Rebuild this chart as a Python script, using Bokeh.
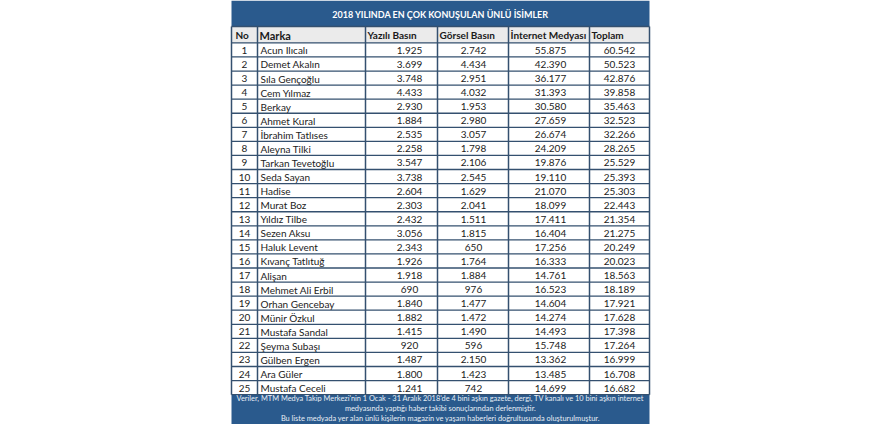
from bokeh.plotting import figure
from bokeh.models import ColumnDataSource, Range1d
from bokeh.core.properties import value
from bokeh.embed import file_html
from bokeh.resources import INLINE

# ---------------- data ----------------
title = "2018 YILINDA EN ÇOK KONUŞULAN ÜNLÜ İSİMLER"
headers = ["No", "Marka", "Yazılı Basın", "Görsel Basın", "İnternet Medyası", "Toplam"]
ranks = list(range(1, 26))
names = ["Acun Ilıcalı", "Demet Akalın", "Sıla Gençoğlu", "Cem Yılmaz", "Berkay",
         "Ahmet Kural", "İbrahim Tatlıses", "Aleyna Tilki", "Tarkan Tevetoğlu", "Seda Sayan",
         "Hadise", "Murat Boz", "Yıldız Tilbe", "Sezen Aksu", "Haluk Levent",
         "Kıvanç Tatlıtuğ", "Alişan", "Mehmet Ali Erbil", "Orhan Gencebay", "Münir Özkul",
         "Mustafa Sandal", "Şeyma Subaşı", "Gülben Ergen", "Ara Güler", "Mustafa Ceceli"]
yazili = [1925, 3699, 3748, 4433, 2930, 1884, 2535, 2258, 3547, 3738,
          2604, 2303, 2432, 3056, 2343, 1926, 1918, 690, 1840, 1882,
          1415, 920, 1487, 1800, 1241]
gorsel = [2742, 4434, 2951, 4032, 1953, 2980, 3057, 1798, 2106, 2545,
          1629, 2041, 1511, 1815, 650, 1764, 1884, 976, 1477, 1472,
          1490, 596, 2150, 1423, 742]
internet = [55875, 42390, 36177, 31393, 30580, 27659, 26674, 24209, 19876, 19110,
            21070, 18099, 17411, 16404, 17256, 16333, 14761, 16523, 14604, 14274,
            14493, 15748, 13362, 13485, 14699]
toplam = [60542, 50523, 42876, 39858, 35463, 32523, 32266, 28265, 25529, 25393,
          25303, 22443, 21354, 21275, 20249, 20023, 18563, 18189, 17921, 17628,
          17398, 17264, 16999, 16708, 16682]
footer = ["Veriler, MTM Medya Takip Merkezi'nin 1 Ocak - 31 Aralık 2018'de 4 bini aşkın gazete, dergi, TV kanalı ve 10 bini aşkın internet",
          "medyasında yaptığı haber takibi sonuçlarından derlenmiştir.",
          "Bu liste medyada yer alan ünlü kişilerin magazin ve yaşam haberleri doğrultusunda oluşturulmuştur."]

# ---------------- layout ----------------
FONT = value("Lato")
DARK = "#2a5a8d"
LINE = "#34506f"
edges = [231, 257, 365, 437, 508, 589, 649]
TITLE_TOP, TITLE_BOT = 0, 27
HEAD_BOT = 44
ROW_H = 14.6
n = len(names)
TABLE_BOT = HEAD_BOT + ROW_H * n
BOTTOM = 440

def fmt(v):
    return f"{v:,}".replace(",", ".")

p = figure(width=864, height=424, output_backend="svg", toolbar_location=None,
           x_range=Range1d(0, 864), y_range=Range1d(BOTTOM, 0),
           min_border=0, outline_line_color=None)
p.axis.visible = False
p.grid.visible = False
p.background_fill_color = "white"
p.border_fill_color = "white"

# bands
p.quad(left=[edges[0]], right=[edges[-1]], top=[TITLE_TOP], bottom=[TITLE_BOT],
       fill_color=DARK, line_color=None)
p.quad(left=[edges[0]], right=[edges[-1]], top=[TITLE_BOT], bottom=[HEAD_BOT],
       fill_color="#ebebeb", line_color=None)
p.quad(left=[edges[0]], right=[edges[-1]], top=[TABLE_BOT], bottom=[BOTTOM],
       fill_color=DARK, line_color=None)

# grid lines
hy = [TITLE_BOT, HEAD_BOT] + [HEAD_BOT + ROW_H * (k + 1) for k in range(n)]
p.segment(x0=[edges[0]] * len(hy), x1=[edges[-1]] * len(hy), y0=hy, y1=hy,
          line_color=LINE, line_width=1.3)
p.segment(x0=edges, x1=edges, y0=[TITLE_BOT] * len(edges), y1=[TABLE_BOT] * len(edges),
          line_color=LINE, line_width=1.5)

# title
p.text(x=[(edges[0] + edges[-1]) / 2], y=[(TITLE_TOP + TITLE_BOT) / 2 + 1], text=[title],
       text_font=FONT, text_font_style="bold", text_font_size="9px",
       text_color="white", text_align="center", text_baseline="middle")

# headers
hx = [edges[0] + 4, edges[1] + 2, edges[2] + 2, edges[3] + 2, edges[4] + 2, edges[5] + 2]
hsize = ["10px", "11px", "10px", "10px", "10px", "10px"]
hcy = (TITLE_BOT + HEAD_BOT) / 2 + 0.5
for x, t, s in zip(hx, headers, hsize):
    p.text(x=[x], y=[hcy], text=[t], text_font=FONT, text_font_style="bold",
           text_font_size=s, text_color="#1a1a1a", text_align="left", text_baseline="middle")

# rows
ry = [HEAD_BOT + ROW_H * (i + 0.5) + 0.5 for i in range(n)]
src = ColumnDataSource(dict(
    y=ry,
    no=[str(r) for r in ranks],
    name=names,
    yaz=[fmt(v) for v in yazili],
    gor=[fmt(v) for v in gorsel],
    net=[fmt(v) for v in internet],
    top=[fmt(v) for v in toplam],
))
common = dict(source=src, y="y", text_font=FONT, text_font_size="10px",
              text_color="#222222", text_baseline="middle")
p.text(x=244, text="no", text_align="center", **common)
p.text(x=edges[1] + 3, text="name", text_align="left", **common)
p.text(x=409, text="yaz", text_align="center", **common)
p.text(x=473, text="gor", text_align="center", **common)
p.text(x=550, text="net", text_align="center", **common)
p.text(x=619, text="top", text_align="center", **common)

# footer
fy = [TABLE_BOT + 4.5, TABLE_BOT + 14.5, TABLE_BOT + 24.5]
p.text(x=[(edges[0] + edges[-1]) / 2] * 3, y=fy, text=footer, text_font=FONT,
       text_font_size="7.4px", text_color="#e8eef5", text_align="center",
       text_baseline="middle")

open("out.html", "w").write(file_html(p, INLINE))
